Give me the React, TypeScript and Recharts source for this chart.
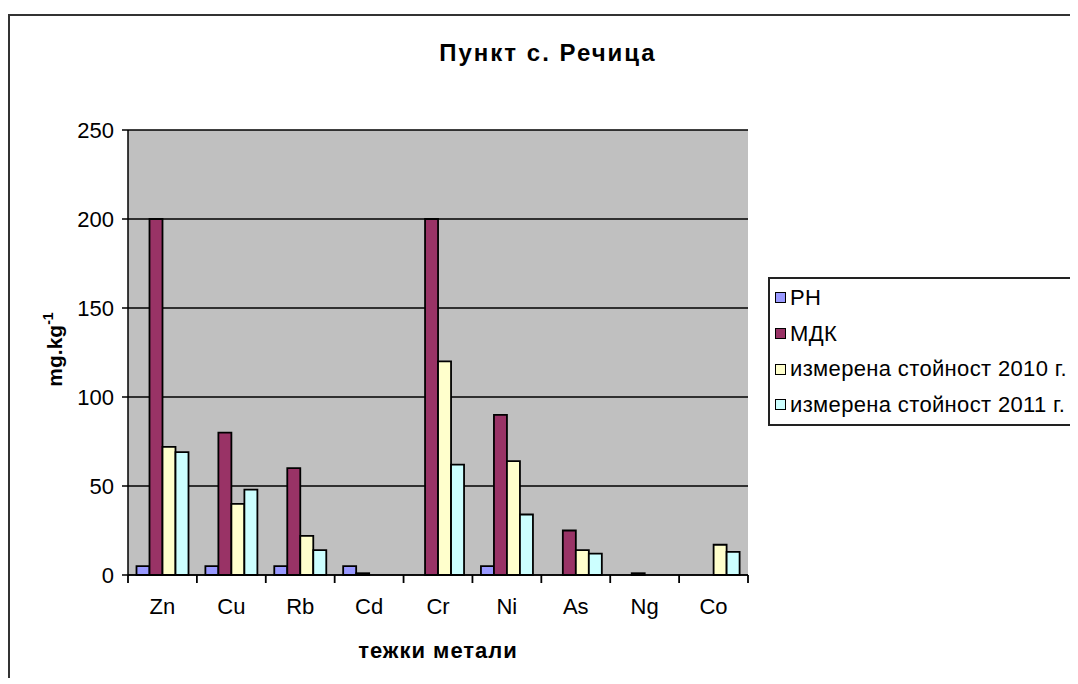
import React from 'react';
import { BarChart, Bar, XAxis, YAxis, CartesianGrid } from 'recharts';

const metals = ['Zn', 'Cu', 'Rb', 'Cd', 'Cr', 'Ni', 'As', 'Ng', 'Co'];
const rh = [5, 5, 5, 5, 0, 5, 0, 0, 0];
const mdk = [200, 80, 60, 1, 200, 90, 25, 1, 0];
const measured2010 = [72, 40, 22, 0, 120, 64, 14, 0, 17];
const measured2011 = [69, 48, 14, 0, 62, 34, 12, 0, 13];
const yTicks = [0, 50, 100, 150, 200, 250];

const series = [
  { key: 'rh', name: 'РН', color: '#9999FF' },
  { key: 'mdk', name: 'МДК', color: '#993366' },
  { key: 'm2010', name: 'измерена стойност 2010 г.', color: '#FFFFCC' },
  { key: 'm2011', name: 'измерена стойност 2011 г.', color: '#CCFFFF' },
];

const data = metals.map((m, i) => ({
  name: m,
  rh: rh[i],
  mdk: mdk[i],
  m2010: measured2010[i],
  m2011: measured2011[i],
}));

const FONT = '"Liberation Sans", Arial, sans-serif';
const MARGIN = { top: 122, right: 330, bottom: 73, left: 60 };
const CHART_H = 670;
const X_AXIS_H = 30;
const PLOT_W = 620;
const BAND = PLOT_W / metals.length;
const AXIS_Y = CHART_H - MARGIN.bottom - X_AXIS_H;

// Excel-style category ticks: marks sit between categories, not under labels
const XTick = (props: any) => {
  const { x, payload } = props;
  const last = payload.value === metals[metals.length - 1];
  const left = x - BAND / 2;
  const right = x + BAND / 2;
  return (
    <g>
      <path
        d={`M${left},${AXIS_Y}V${AXIS_Y + 8}` + (last ? `M${right},${AXIS_Y}V${AXIS_Y + 8}` : '')}
        stroke="#000"
        strokeWidth={1.8}
        fill="none"
      />
      <text x={x} y={AXIS_Y + 39} textAnchor="middle" fontSize={22} fontFamily={FONT} fill="#000">
        {payload.value}
      </text>
    </g>
  );
};

const YLabel = ({ viewBox }: any) => {
  const cx = 54;
  const cy = viewBox.y + viewBox.height / 2 - 3;
  return (
    <text
      x={cx}
      y={cy}
      transform={`rotate(-90 ${cx} ${cy})`}
      textAnchor="middle"
      fontSize={21}
      fontWeight="bold"
      fontFamily={FONT}
      fill="#000"
    >
      mg.kg<tspan dy={-9} fontSize={14}>-1</tspan>
    </text>
  );
};

const LegendBox = () => (
  <div
    style={{
      position: 'absolute',
      left: 760,
      top: 269,
      width: 340,
      height: 144,
      border: '2px solid #222',
      padding: '1px 0 0 5px',
      background: '#fff',
      fontFamily: FONT,
      fontSize: 22,
      letterSpacing: 0.35,
    }}
  >
    {series.map((s) => (
      <div key={s.key} style={{ display: 'flex', alignItems: 'center', height: 35.7 }}>
        <span
          style={{
            display: 'inline-block',
            width: 9,
            height: 9,
            border: '1.5px solid #000',
            background: s.color,
            marginRight: 4,
          }}
        />
        <span>{s.name}</span>
      </div>
    ))}
  </div>
);

export default function App() {
  return (
    <div style={{ position: 'relative', width: 1070, height: CHART_H, overflow: 'hidden', fontFamily: FONT }}>
      <div
        style={{
          position: 'absolute',
          left: 0,
          top: 6,
          width: 1200,
          height: 800,
          borderLeft: '2px solid #333',
          borderTop: '2px solid #333',
        }}
      />
      <div
        style={{
          position: 'absolute',
          left: 0,
          top: 31,
          width: 1080,
          lineHeight: '28px',
          textAlign: 'center',
          fontSize: 24,
          fontWeight: 'bold',
          letterSpacing: 2,
        }}
      >
        Пункт с. Речица
      </div>
      <div
        style={{
          position: 'absolute',
          left: 120,
          top: 630,
          width: PLOT_W,
          lineHeight: '26px',
          textAlign: 'center',
          fontSize: 22,
          fontWeight: 'bold',
          letterSpacing: 1,
        }}
      >
        тежки метали
      </div>
      <div style={{ position: 'absolute', left: 0, top: 0 }}>
        <BarChart
          width={1070}
          height={CHART_H}
          data={data}
          margin={MARGIN}
          barCategoryGap={8.5}
          barGap={0}
        >
          <CartesianGrid vertical={false} stroke="#000" strokeWidth={1.5} fill="#C0C0C0" fillOpacity={1} />
          <XAxis
            dataKey="name"
            axisLine={{ stroke: '#000', strokeWidth: 1.5 }}
            tickLine={false}
            tick={XTick}
            interval={0}
            height={X_AXIS_H}
          />
          <YAxis
            width={60}
            domain={[0, 250]}
            ticks={yTicks}
            axisLine={{ stroke: '#000', strokeWidth: 1.5 }}
            tickLine={{ stroke: '#000', strokeWidth: 1.5 }}
            tickSize={6}
            tickMargin={8}
            tick={{ fill: '#000', fontSize: 22, fontFamily: FONT }}
            label={<YLabel />}
          />
          {series.map((s) => (
            <Bar
              key={s.key}
              dataKey={s.key}
              name={s.name}
              fill={s.color}
              stroke="#000"
              strokeWidth={1.8}
              isAnimationActive={false}
            />
          ))}
        </BarChart>
      </div>
      <LegendBox />
    </div>
  );
}
